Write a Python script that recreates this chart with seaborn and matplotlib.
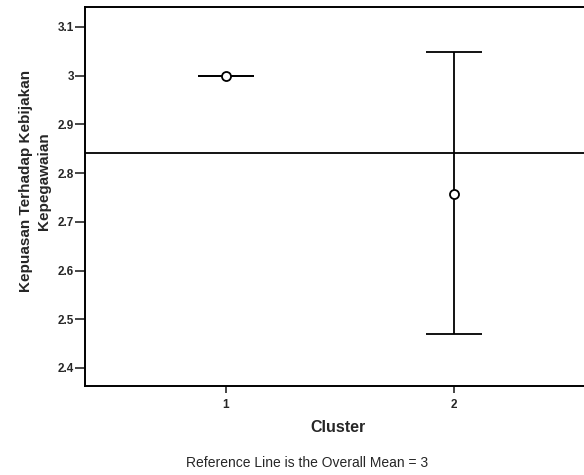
import matplotlib
matplotlib.use("Agg")
import matplotlib.pyplot as plt
import seaborn as sns
import pandas as pd
import numpy as np

# Data
clusters = ["1", "2"]
means = [3.000, 2.757]
ci_low = [3.000, 2.469]
ci_high = [3.000, 3.049]
overall_mean = 2.842
y_ticks = [2.4, 2.5, 2.6, 2.7, 2.8, 2.9, 3.0, 3.1]
y_tick_labels = ["2.4", "2.5", "2.6", "2.7", "2.8", "2.9", "3", "3.1"]

df = pd.DataFrame({"Cluster": clusters, "Mean": means})

sns.set_style("ticks")
plt.rcParams["font.family"] = ["Liberation Sans", "DejaVu Sans"]

fig = plt.figure(figsize=(5.84, 4.75), dpi=100)
ax = fig.add_axes([85/584, 1 - 386/475, 1 - 85/584, (386 - 7)/475])

x_pos = np.arange(len(clusters))
yerr = np.array([np.array(means) - np.array(ci_low), np.array(ci_high) - np.array(means)])
ax.errorbar(x_pos, means, yerr=yerr, fmt="none", ecolor="black", elinewidth=1.3,
            capsize=20, capthick=1.3, zorder=2)

sns.pointplot(data=df, x="Cluster", y="Mean", errorbar=None, linestyle="none",
              markers="o", color="black", markersize=6.5, markerfacecolor="white",
              markeredgecolor="black", markeredgewidth=1.3, ax=ax, zorder=4)

ax.axhline(overall_mean, color="black", lw=1.3, zorder=1)

ax.set_xlim(1 - 141/228 - 1, 2 + 130/228 - 1)
ax.set_ylim(2.363, 3.141)
ax.set_yticks(y_ticks)
ax.set_yticklabels(y_tick_labels)

for s in ["top", "left", "bottom"]:
    ax.spines[s].set_visible(True)
    ax.spines[s].set_linewidth(1.4)
    ax.spines[s].set_color("black")
ax.spines["right"].set_visible(False)

ax.tick_params(axis="y", direction="out", length=7, width=1.2, pad=1, labelsize=8.5)
ax.tick_params(axis="x", direction="out", length=5, width=1.2, pad=4, labelsize=8.5)
for lab in ax.get_xticklabels() + ax.get_yticklabels():
    lab.set_fontweight("bold")

ax.set_xlabel("")
ax.set_ylabel("Kepuasan Terhadap Kebijakan\nKepegawaian", fontsize=11, fontweight="bold",
              linespacing=1.4)
ax.yaxis.set_label_coords(-0.068, 0.54)

fig.text(338/584, 1 - 428/475, "Cluster", ha="center", va="center",
         fontsize=11.5, fontweight="bold")
fig.text(307/584, 1 - 463/475, "Reference Line is the Overall Mean = 3",
         ha="center", va="center", fontsize=10)

fig.savefig("out.png", dpi=100)
